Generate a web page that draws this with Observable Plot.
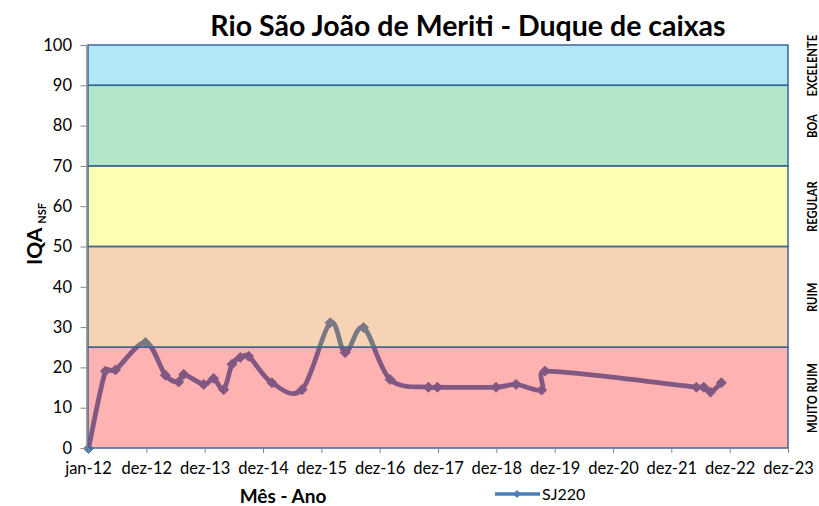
<!DOCTYPE html>
<html><head><meta charset="utf-8">
<script src="https://cdn.jsdelivr.net/npm/d3@7"></script>
<script src="https://cdn.jsdelivr.net/npm/@observablehq/plot@0.6"></script>
<style>
html,body{margin:0;padding:0;background:#fff;overflow:hidden;}
#chart svg{display:block;}
</style>
</head><body><div id="chart"></div>
<script>
const titulo = "Rio São João de Meriti - Duque de caixas";
const rotuloX = "Mês - Ano";
const rotuloY = "IQA";
const rotuloYSub = "NSF";
const serieNome = "SJ220";

const datas = ["2012-01-01","2012-04-16","2012-06-18","2012-12-22","2013-04-26","2013-07-18","2013-08-19","2013-12-22",
  "2014-02-22","2014-04-26","2014-06-17","2014-08-08","2014-09-29","2015-02-22","2015-08-29","2016-02-21",
  "2016-05-25","2016-09-17","2017-03-02","2017-10-28","2017-12-23","2018-12-25","2019-04-29","2019-10-06",
  "2019-10-27","2022-06-01","2022-07-17","2022-08-28","2022-11-04"];
const iqa = [0,19.2,19.5,26.3,18.2,16.5,18.4,15.9,
  17.4,14.6,20.9,22.6,22.9,16.3,14.6,31.2,
  23.8,30.0,17.1,15.2,15.2,15.2,15.9,14.5,
  19.2,15.2,15.2,14.0,16.3];

const tickDatas = ["2012-01-01","2012-12-31","2013-12-31","2014-12-31","2015-12-31","2016-12-30","2017-12-30",
  "2018-12-30","2019-12-30","2020-12-29","2021-12-29","2022-12-29","2023-12-29"];
const tickRotulos = ["jan-12","dez-12","dez-13","dez-14","dez-15","dez-16","dez-17","dez-18","dez-19","dez-20","dez-21","dez-22","dez-23"];
const yTicks = [0,10,20,30,40,50,60,70,80,90,100];

const faixaNomes = ["MUITO RUIM","RUIM","REGULAR","BOA","EXCELENTE"];
const faixaInicio = [0,25,50,70,90];
const faixaFim = [25,50,70,90,100];

const parse = d3.utcParse("%Y-%m-%d");
const pontos = datas.map((d,i)=>({data: parse(d), iqa: iqa[i]}));
const faixas = faixaNomes.map((n,i)=>({nome:n, y1:faixaInicio[i], y2:faixaFim[i], meio:(faixaInicio[i]+faixaFim[i])/2}));
const ticks = tickDatas.map(parse);
const fmt = new Map(ticks.map((t,i)=>[+t, tickRotulos[i]]));

// Spreadsheet-style smoothed line (Bezier, tension 1/6, handles capped at half segment)
function SmoothCurve(context){ this._context = context; }
SmoothCurve.prototype = {
  areaStart(){ this._line = 0; },
  areaEnd(){ this._line = NaN; },
  lineStart(){ this._pts = []; },
  point(x, y){ this._pts.push([+x, +y]); },
  lineEnd(){
    const p = this._pts, c = this._context, n = p.length;
    if (!n) return;
    c.moveTo(p[0][0], p[0][1]);
    if (n === 1) return;
    const dist = (a, b) => Math.hypot(a[0]-b[0], a[1]-b[1]);
    for (let i = 0; i < n - 1; i++) {
      const p0 = p[i-1] || p[i], p1 = p[i], p2 = p[i+1], p3 = p[i+2] || p[i+1];
      const d02 = dist(p0, p2), d12 = dist(p1, p2), d13 = dist(p1, p3);
      let f0 = 1/6, f1 = 1/6;
      if (!(d02/6 < d12/2 && d13/6 < d12/2)) {
        if (d02/6 >= d12/2) f0 = d02 > 0 ? d12/d02/2 : 0;
        if (d13/6 >= d12/2) f1 = d13 > 0 ? d12/d13/2 : 0;
      }
      c.bezierCurveTo(
        p1[0] + (p2[0]-p0[0])*f0, p1[1] + (p2[1]-p0[1])*f0,
        p2[0] - (p3[0]-p1[0])*f1, p2[1] - (p3[1]-p1[1])*f1,
        p2[0], p2[1]);
    }
  }
};
const curveSmooth = ctx => new SmoothCurve(ctx);

const azul = "#4A7EBB";
const font = "Lato, 'Open Sans', sans-serif";

const plot = Plot.plot({
  width: 819, height: 506,
  marginLeft: 88, marginRight: 31, marginTop: 45, marginBottom: 58,
  style: {fontFamily: font, fontSize: "16.5px", color: "#000", background: "#fff", overflow: "hidden"},
  x: {type: "utc", domain: [ticks[0], ticks[ticks.length-1]]},
  y: {domain: [0, 100]},
  color: {domain: faixaNomes, range: ["#FF0000","#E36C09","#FFFF00","#00B050","#00B0F0"]},
  marks: [
    Plot.line(pontos, {x: "data", y: "iqa", stroke: azul, strokeWidth: 4.8, curve: curveSmooth}),
    Plot.dot(pontos, {x: "data", y: "iqa", symbol: "diamond2", r: 4.5, fill: azul, stroke: azul, strokeWidth: 1}),
    Plot.rect(faixas, {x1: () => ticks[0], x2: () => ticks[ticks.length-1], y1: "y1", y2: "y2", fill: "nome", fillOpacity: 0.3, stroke: "#3D6698", strokeWidth: 1.5}),
    Plot.ruleX([ticks[0]], {stroke: "#868686", strokeWidth: 1.5, dx: -1.5}),
    Plot.axisY({ticks: yTicks, tickSize: 6, tickPadding: 9, stroke: "#868686", label: null, dx: -1.5, fontSize: 16.5}),
    Plot.axisX({ticks: ticks, tickFormat: d => fmt.get(+d), tickSize: 5, tickPadding: 9, stroke: "#868686", label: null, fontSize: 16.5}),
    Plot.text(faixas, {y: "meio", text: "nome", frameAnchor: "right", textAnchor: "middle", dx: 19, rotate: -90, lineAnchor: "top", fontWeight: "bold", fontSize: 14, fill: "#000", className: "faixa-rotulo"})
  ]
});

document.getElementById("chart").appendChild(plot);
const svg = d3.select(plot);

// condensed look for the band labels
svg.selectAll(".faixa-rotulo text").each(function(){
  const L = this.getComputedTextLength();
  if (L > 0) { this.setAttribute("textLength", (L * 0.8).toFixed(1)); this.setAttribute("lengthAdjust", "spacingAndGlyphs"); }
});

svg.append("text").attr("x", 468).attr("y", 36).attr("text-anchor", "middle")
  .attr("font-family", font).attr("font-weight", "bold").attr("font-size", 28.5).attr("fill", "#000").text(titulo);

svg.append("text").attr("x", 283).attr("y", 503).attr("text-anchor", "middle")
  .attr("font-family", font).attr("font-weight", "bold").attr("font-size", 19).attr("fill", "#000").text(rotuloX);

const yl = svg.append("text").attr("transform", "translate(42,234) rotate(-90)").attr("text-anchor", "middle")
  .attr("font-family", font).attr("font-weight", "bold").attr("font-size", 21).attr("fill", "#000");
yl.append("tspan").text(rotuloY);
yl.append("tspan").attr("font-size", 11).attr("dx", 4).attr("dy", 4).text(rotuloYSub);

const lg = svg.append("g");
lg.append("line").attr("x1", 495).attr("x2", 540).attr("y1", 494).attr("y2", 494).attr("stroke", azul).attr("stroke-width", 3.5);
lg.append("path").attr("d", d3.symbol(d3.symbolDiamond2, 40)()).attr("transform", "translate(517,494)").attr("fill", azul);
lg.append("text").attr("x", 542).attr("y", 494).attr("dy", "0.35em").attr("text-anchor", "start").attr("font-family", font).attr("font-size", 16).attr("fill", "#000").text(serieNome);
</script>
</body></html>
